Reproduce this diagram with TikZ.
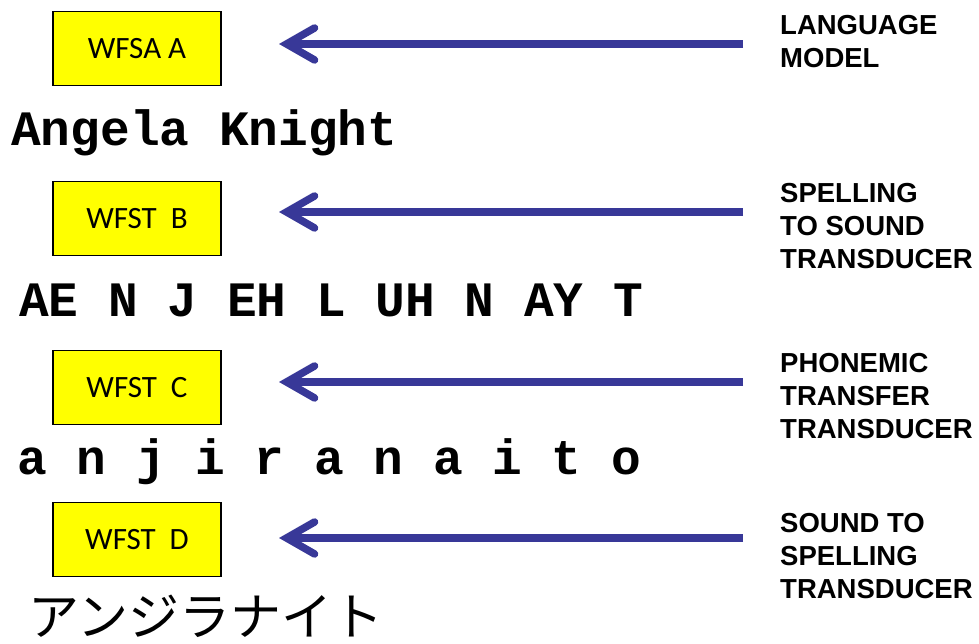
\documentclass[tikz,border=0pt]{standalone}
\usepackage{fontspec}
\usetikzlibrary{arrows.meta}
\newfontfamily\monob{Liberation Mono}[BoldFont=* Bold]
\newfontfamily\labfont{Liberation Sans}
\newfontfamily\boxfont{Carlito}
\newfontfamily\cjk{Noto Sans CJK JP}
\definecolor{arrowblue}{RGB}{56,56,152}
\definecolor{boxyellow}{RGB}{255,255,0}
\tikzset{
  fstbox/.style={draw=black, line width=1.3pt, fill=boxyellow, minimum width=168pt, minimum height=74pt, inner sep=0pt, font=\boxfont\fontsize{31}{34}\selectfont},
  seqtext/.style={anchor=base west, inner sep=0pt, font=\monob\bfseries\fontsize{49.5}{52}\selectfont},
  sidelabel/.style={anchor=west, inner sep=0pt, align=left, font=\labfont\bfseries\fontsize{27.5}{33}\selectfont},
  flow/.style={draw=arrowblue, line width=7.5pt, -{Straight Barb[length=28pt, width=32pt, line cap=round, line join=miter]}}
}
\begin{document}
\begin{tikzpicture}[x=1pt,y=1pt]
\useasboundingbox (0,0) rectangle (979,644);
% boxes
\node[fstbox] (A) at (137,595.5) {WFSA A};
\node[fstbox] (B) at (137,425.5) {WFST~~B};
\node[fstbox] (C) at (137,256.5) {WFST~~C};
\node[fstbox] (D) at (137,104.5) {WFST~~D};
% sequences
\node[seqtext] (s1) at (11,498) {Angela Knight};
\node[seqtext] (s2) at (19,327) {AE N J EH L UH N AY T};
\node[seqtext] (s3) at (17,169) {a n j i r a n a i t o};
\node[anchor=base west, inner sep=0pt, font=\cjk\fontsize{51}{54}\selectfont] (s4) at (28,8) {アンジラナイト};
% labels
\node[sidelabel] (LA) at (780,602.5) {LANGUAGE\\MODEL};
\node[sidelabel] (LB) at (780,418) {SPELLING\\TO SOUND\\TRANSDUCER};
\node[sidelabel] (LC) at (780,248) {PHONEMIC\\TRANSFER\\TRANSDUCER};
\node[sidelabel] (LD) at (780,88) {SOUND TO\\SPELLING\\TRANSDUCER};
% arrow ends
\coordinate (aS) at (743,600); \coordinate (aE) at (279,600);
\coordinate (bS) at (743,432); \coordinate (bE) at (279,432);
\coordinate (cS) at (743,262); \coordinate (cE) at (279,262);
\coordinate (dS) at (743,106); \coordinate (dE) at (279,106);
\draw[flow] (aS) -- (aE);
\draw[flow] (bS) -- (bE);
\draw[flow] (cS) -- (cE);
\draw[flow] (dS) -- (dE);
\end{tikzpicture}
\end{document}
